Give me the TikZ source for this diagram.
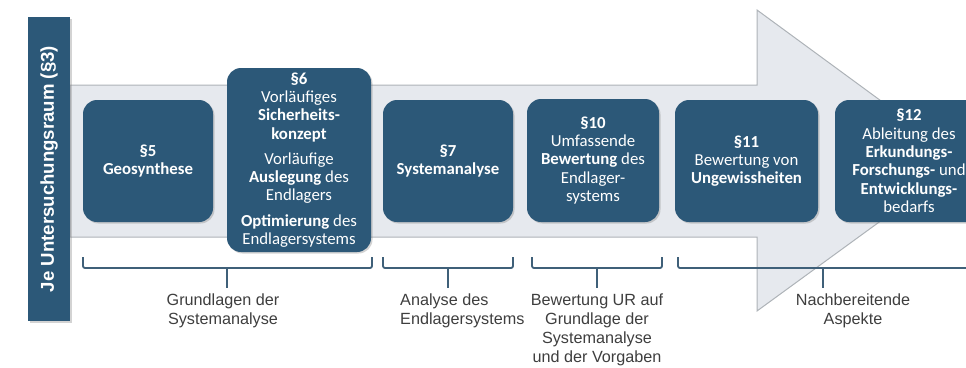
\documentclass[tikz,border=0pt]{standalone}
\usepackage{fontspec}
\setmainfont{Carlito}
\newfontfamily\arialfont{Liberation Sans}
\usetikzlibrary{shadows}

\definecolor{bgeblau}{HTML}{2C5878}
\definecolor{pfeilgrau}{HTML}{E6E9EE}
\definecolor{randgrau}{HTML}{AEB3B8}
\definecolor{textgrau}{HTML}{3E3E3E}
\definecolor{klammerblau}{HTML}{3F6079}

\begin{document}
\begin{tikzpicture}[x=1pt, y=-1pt,
    paragraf/.style={fill=bgeblau, rounded corners=14pt, text=white, align=center,
      inner sep=0pt, font=\fontsize{16.8}{18.3}\selectfont,
      drop shadow={opacity=.35, shadow xshift=1.5pt, shadow yshift=-1.5pt}},
    klammer/.style={draw=klammerblau, line width=1.8pt, rounded corners=2pt},
    beschriftung/.style={font=\arialfont\fontsize{16.2}{18.8}\selectfont,
      text=textgrau, align=center, anchor=north, inner sep=0pt}]
    \clip (0,0) rectangle (966,367);
    % Pfeil
    \draw[fill=pfeilgrau, draw=randgrau, line width=1] (70,85) -- (757,85) -- (757,10)
      -- (963,161) -- (757,311) -- (757,237) -- (70,237) -- cycle;
    % Untersuchungsraum
    \node[rotate=90, fill=bgeblau, minimum width=304, minimum height=42, inner sep=0pt,
      text=white, font=\arialfont\bfseries\fontsize{18.6}{20}\selectfont,
      drop shadow={opacity=.35, shadow xshift=1.5pt, shadow yshift=-1.5pt}]
      (ur) at (49,169) {Je Untersuchungsraum (§3)};
    % Paragraphen
    \node[paragraf, minimum width=130, minimum height=122] (p5) at (148,161)
      {\textbf{§5}\\\textbf{Geosynthese}};
    \node[paragraf, minimum width=144, minimum height=184] (p6) at (299,160)
      {\textbf{§6}\\Vorläufiges\\\textbf{Sicherheits-}\\\textbf{konzept}\\[7pt]
       Vorläufige\\\textbf{Auslegung} des\\Endlagers\\[7pt]
       \textbf{Optimierung} des\\Endlagersystems};
    \node[paragraf, minimum width=130, minimum height=122] (p7) at (448,161)
      {\textbf{§7}\\\textbf{Systemanalyse}};
    \node[paragraf, minimum width=132, minimum height=123] (p10) at (593,160.5)
      {\textbf{§10}\\Umfassende\\\textbf{Bewertung} des\\Endlager-\\systems};
    \node[paragraf, minimum width=143, minimum height=122] (p11) at (746.5,161)
      {\textbf{§11}\\Bewertung von\\\textbf{Ungewissheiten}};
    \node[paragraf, minimum width=148, minimum height=122] (p12) at (909,161)
      {\textbf{§12}\\Ableitung des\\\textbf{Erkundungs-}\\\textbf{Forschungs-} und\\
       \textbf{Entwicklungs-}\\bedarfs};
    % Klammern
    \draw[klammer] (83,257) -- (83,268) -- (372,268) -- (372,257);
    \draw[klammer] (227,268) -- (227,288);
    \draw[klammer] (383,257) -- (383,268) -- (513,268) -- (513,257);
    \draw[klammer] (448,268) -- (448,288);
    \draw[klammer] (532,257) -- (532,268) -- (662,268) -- (662,257);
    \draw[klammer] (597,268) -- (597,288);
    \draw[klammer] (678,257) -- (678,268) -- (990,268);
    \draw[klammer] (823,268) -- (823,288);
    % Beschriftungen
    \node[beschriftung] (l1) at (223,294) {Grundlagen der\\Systemanalyse};
    \node[beschriftung, align=left, anchor=north west] (l2) at (400,294)
      {Analyse des\\Endlagersystems};
    \node[beschriftung] (l3) at (597,294)
      {Bewertung UR auf\\Grundlage der\\Systemanalyse\\und der Vorgaben};
    \node[beschriftung] (l4) at (853,294) {Nachbereitende\\Aspekte};
\end{tikzpicture}
\end{document}
